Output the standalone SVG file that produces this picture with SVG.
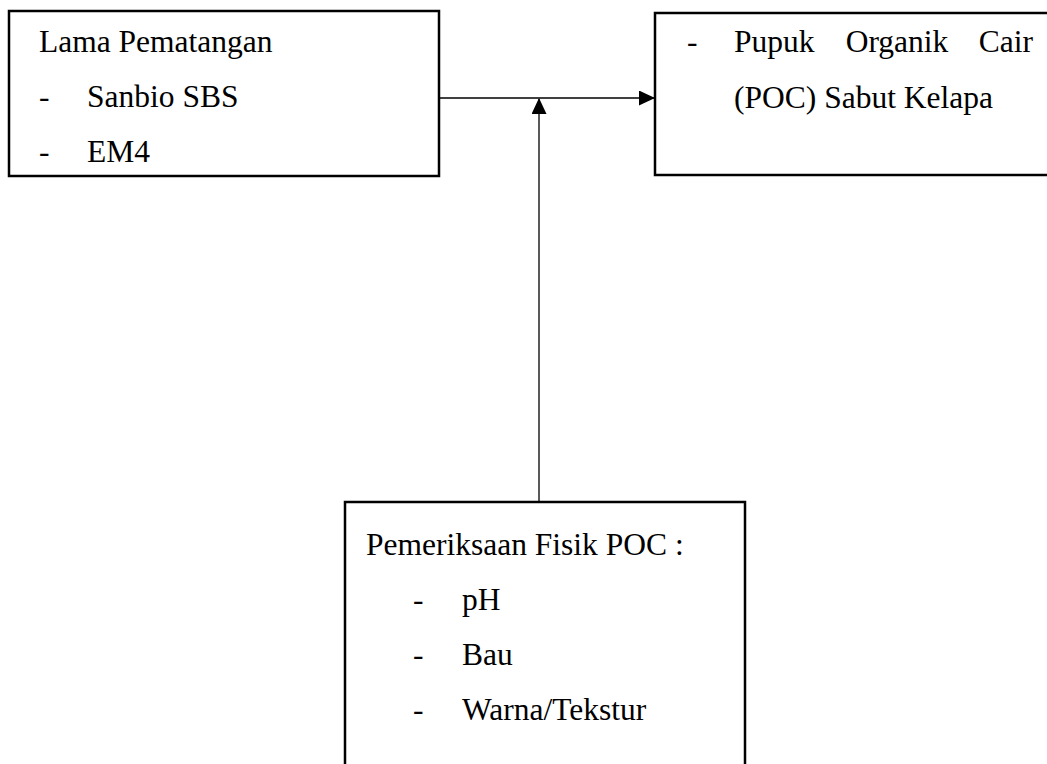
<svg xmlns="http://www.w3.org/2000/svg" width="1047" height="764" viewBox="0 0 1047 764">
<style>
.box{fill:#fff;stroke:#000;stroke-width:2.5}
.t{font-family:"Liberation Serif","Times New Roman","DejaVu Serif",serif;font-size:31.5px;fill:#000}
.ln{stroke:#000;stroke-width:1.3;fill:none}
</style>
<defs>
<marker id="ah" markerWidth="16" markerHeight="16" refX="15" refY="7.5" orient="auto" markerUnits="userSpaceOnUse">
<path d="M0,0 L16,7.5 L0,15 Z" fill="#000"/>
</marker>
</defs>
<rect width="1047" height="764" fill="#fff"/>
<g id="connectors">
<line class="ln" x1="440" y1="98" x2="654" y2="98" marker-end="url(#ah)"/>
<line class="ln" x1="539" y1="502" x2="539" y2="99" marker-end="url(#ah)"/>
</g>
<g id="node-lama" font-family="Liberation Serif, serif">
<rect class="box" x="9" y="11" width="430" height="165"/>
<text class="t" x="39" y="52">Lama Pematangan</text>
<text class="t" x="39" y="107">-</text>
<text class="t" x="87" y="107">Sanbio SBS</text>
<text class="t" x="39" y="162">-</text>
<text class="t" x="87" y="162">EM4</text>
</g>
<g id="node-poc" font-family="Liberation Serif, serif">
<rect class="box" x="655" y="13" width="420" height="162"/>
<text class="t" x="687" y="52">-</text>
<text class="t" x="734" y="52">Pupuk</text>
<text class="t" x="897" y="52" text-anchor="middle">Organik</text>
<text class="t" x="1033" y="52" text-anchor="end">Cair</text>
<text class="t" x="734" y="108">(POC) Sabut Kelapa</text>
</g>
<g id="node-fisik" font-family="Liberation Serif, serif">
<rect class="box" x="345" y="502" width="400" height="290"/>
<text class="t" x="366" y="555">Pemeriksaan Fisik POC :</text>
<text class="t" x="413" y="610">-</text>
<text class="t" x="462" y="610">pH</text>
<text class="t" x="413" y="665">-</text>
<text class="t" x="462" y="665">Bau</text>
<text class="t" x="413" y="720">-</text>
<text class="t" x="462" y="720">Warna/Tekstur</text>
</g>
</svg>
